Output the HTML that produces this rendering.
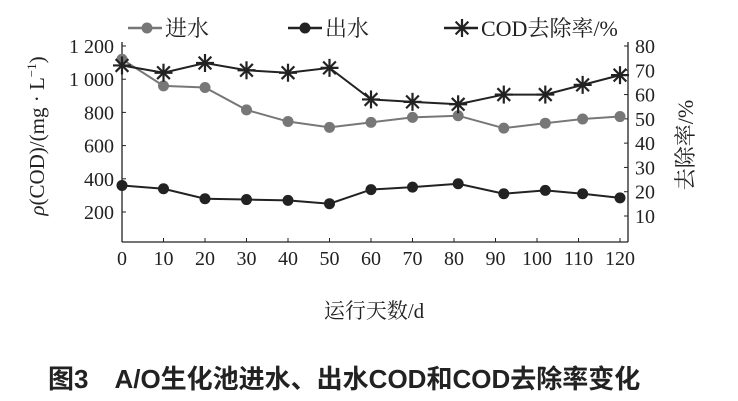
<!DOCTYPE html>
<html><head><meta charset="utf-8">
<style>
html,body{margin:0;padding:0;background:#fff;}
svg{display:block;}
text{font-family:"Liberation Serif","Noto Serif CJK SC",serif;fill:#222;}
.cap{font-family:"Liberation Sans","Noto Sans CJK SC",sans-serif;font-weight:bold;}
</style></head>
<body>
<svg id="chart" width="738" height="401" viewBox="0 0 738 401"></svg>
<script>
const days = [0,10,20,30,40,50,60,70,81,92,102,111,120];
const xTicks = [0,10,20,30,40,50,60,70,80,90,100,110,120];
const inflow = [1120,960,950,815,745,710,740,770,780,705,735,760,775];
const outflow = [360,340,280,275,270,250,335,350,370,310,330,310,285];
const removal = [72,69,73,70,69,71,58,57,56,60,60,64,68];
const leftTicks = [200,400,600,800,1000,1200];
const leftLabels = ["200","400","600","800","1 000","1 200"];
const rightTicks = [10,20,30,40,50,60,70,80];

const X0=122, X1=628, YB=242, YT=42;
const xs = d => X0 + (d-0)/(120-0)*(620-122);
const yl = v => 212 + (v-200)*(46-212)/1000;
const yr = v => 216 + (v-10)*(46-216)/70;

const svg=document.getElementById('chart');
const NS='http://www.w3.org/2000/svg';
function mk(tag,attrs,parent){const e=document.createElementNS(NS,tag);for(const k in attrs)e.setAttribute(k,attrs[k]);(parent||svg).appendChild(e);return e;}
function txt(s,attrs,parent){const e=mk('text',attrs,parent);e.textContent=s;return e;}

const axL=mk('line',{x1:X0,y1:YT,x2:X0,y2:YB,stroke:'#222','stroke-width':1.3});


const axR=mk('line',{x1:X1,y1:YT,x2:X1,y2:YB,stroke:'#222','stroke-width':1.3});


const axB=mk('line',{x1:X0,y1:YB,x2:X1,y2:YB,stroke:'#222','stroke-width':1.3});



xTicks.forEach(t=>{
  mk('line',{x1:xs(t),y1:YB,x2:xs(t),y2:YB-4,stroke:'#222'});
  const e=txt(String(t),{x:xs(t),y:265,'text-anchor':'middle','font-size':20});
  
  
});
leftTicks.forEach((t,i)=>{
  mk('line',{x1:X0,y1:yl(t),x2:X0+4,y2:yl(t),stroke:'#222'});
  const e=txt(leftLabels[i],{x:X0-8,y:yl(t)+7,'text-anchor':'end','font-size':20});
  
  
});
rightTicks.forEach(t=>{
  mk('line',{x1:X1,y1:yr(t),x2:X1-4,y2:yr(t),stroke:'#222'});
  const e=txt(String(t),{x:X1+7,y:yr(t)+7,'text-anchor':'start','font-size':20});
  
  
});

function star(cx,cy,g,r){
  for(let a=0;a<4;a++){const an=a*Math.PI/4;const dx=r*Math.cos(an),dy=r*Math.sin(an);
    mk('line',{x1:cx-dx,y1:cy-dy,x2:cx+dx,y2:cy+dy,stroke:'#222','stroke-width':2.2},g);}
}
function series(vals,yf,color,name,marker){
  const g=mk('g',{});
  
  
  mk('polyline',{points:vals.map((v,i)=>xs(days[i])+','+yf(v)).join(' '),fill:'none',stroke:color,'stroke-width':2},g);
  vals.forEach((v,i)=>{
    if(marker==='star') star(xs(days[i]),yf(v),g,9);
    else mk('circle',{cx:xs(days[i]),cy:yf(v),r:5.5,fill:color},g);
  });
}
series(inflow,yl,'#777','inflow-series','dot');
series(outflow,yl,'#222','outflow-series','dot');
series(removal,yr,'#222','removal-series','star');

const lg=mk('g',{});


mk('line',{x1:128,y1:28,x2:162,y2:28,stroke:'#777','stroke-width':2.5},lg);
mk('circle',{cx:147,cy:28,r:5.5,fill:'#777'},lg);
txt('进水',{x:165,y:36,'font-size':22},lg);
mk('line',{x1:288,y1:28,x2:322,y2:28,stroke:'#222','stroke-width':2.5},lg);
mk('circle',{cx:305,cy:28,r:5.5,fill:'#222'},lg);
txt('出水',{x:325,y:36,'font-size':22},lg);
mk('line',{x1:444,y1:28,x2:478,y2:28,stroke:'#222','stroke-width':2.5},lg);
star(462,28,lg,9);
txt('COD去除率/%',{x:481,y:36,'font-size':22},lg);

const lt=txt('',{transform:'translate(44,136) rotate(-90)','text-anchor':'middle','font-size':21});
lt.innerHTML='<tspan font-style="italic">ρ</tspan>(COD)/(mg · L<tspan font-size="13" dy="-8">−1</tspan><tspan dy="8">)</tspan>';


const rt=txt('去除率/%',{transform:'translate(693,145) rotate(-90)','text-anchor':'middle','font-size':22});


const xt=txt('运行天数/d',{x:374,y:318,'text-anchor':'middle','font-size':21});


const cap=txt('图3　A/O生化池进水、出水COD和COD去除率变化',{x:48,y:388,'font-size':26,'class':'cap'});


</script>
</body></html>
